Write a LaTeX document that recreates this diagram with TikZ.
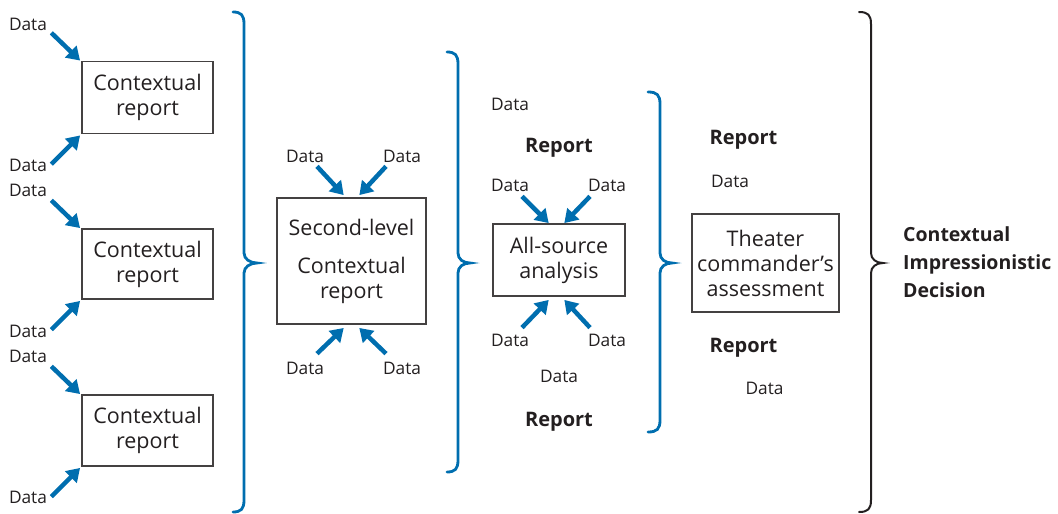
\documentclass[tikz,border=0pt]{standalone}
\usepackage{fontspec}
\setmainfont{Open Sans}
\usetikzlibrary{arrows.meta,calc}
\definecolor{flowblue}{RGB}{0,110,175}
\definecolor{ink}{RGB}{35,31,32}
\begin{document}
\begin{tikzpicture}[x=1pt,y=-1pt,
  box/.style={draw=ink!85,line width=1.3pt,text=ink,align=center,inner sep=0pt,
    font=\fontsize{21.5}{25}\selectfont},
  datalbl/.style={text=ink,inner sep=0pt,font=\fontsize{17.3}{19}\selectfont},
  rep/.style={text=ink,inner sep=0pt,yshift=-3pt,font=\fontsize{20}{28}\selectfont\bfseries},
  feed/.style={draw=flowblue,line width=4.5pt,
    -{Triangle[length=13pt,width=16pt]},shorten >=-1pt},
  bluebrace/.style={draw=flowblue,line width=2.8pt,line cap=round},
  blackbrace/.style={draw=ink,line width=2pt,line cap=round}]
\useasboundingbox (0,0) rectangle (1058,514);

% first-level contextual reports
\node[box,minimum width=131pt,minimum height=72pt] (c1) at (147.5,97.5) {Contextual\\report};
\node[box,minimum width=131pt,minimum height=70pt] (c2) at (147.5,264) {Contextual\\report};
\node[box,minimum width=131pt,minimum height=71pt] (c3) at (147.5,430.5) {Contextual\\report};

\node[datalbl] (d1) at (28,24) {Data};
\node[datalbl] (d2) at (28,165) {Data};
\node[datalbl] (d3) at (28,190) {Data};
\node[datalbl] (d4) at (28,331) {Data};
\node[datalbl] (d5) at (28,356) {Data};
\node[datalbl] (d6) at (28,497) {Data};

\foreach \b in {c1,c2,c3}{
  \draw[feed] ($(\b.north west)+(-30,-28)$) -- ($(\b.north west)+(-2,-1)$);
  \draw[feed] ($(\b.south west)+(-30,30)$) -- ($(\b.south west)+(-2,2)$);
}

% brace gathering the first level
\draw[bluebrace] (233,12) .. controls (241,12) and (244,15) .. (244,24)
  -- (244,253) .. controls (244,259) and (250,263) .. (257,263)
  .. controls (250,263) and (244,267) .. (244,273)
  -- (244,500) .. controls (244,509) and (241,512) .. (233,512);

% second-level report
\node[box,minimum width=149pt,minimum height=126pt] (s) at (351.5,261)
  {Second-level\\[13pt]Contextual\\report};
\node[datalbl] (s1) at (305,156) {Data};
\node[datalbl] (s2) at (402,156) {Data};
\node[datalbl] (s3) at (305,368) {Data};
\node[datalbl] (s4) at (402,368) {Data};
\draw[feed] ($(s.north)+(-34.5,-31)$) -- ($(s.north)+(-8.5,-3)$);
\draw[feed] ($(s.north)+(34.5,-31)$) -- ($(s.north)+(8.5,-3)$);
\draw[feed] ($(s.south)+(-34.5,29)$) -- ($(s.south)+(-8.5,4)$);
\draw[feed] ($(s.south)+(34.5,29)$) -- ($(s.south)+(8.5,4)$);

\draw[bluebrace] (447,52) .. controls (455,52) and (458,55) .. (458,64)
  -- (458,253) .. controls (458,259) and (463,263) .. (470,263)
  .. controls (463,263) and (458,267) .. (458,273)
  -- (458,460) .. controls (458,469) and (455,472) .. (447,472);

% all-source analysis
\node[box,minimum width=132pt,minimum height=72pt] (a) at (559,260) {All-source\\analysis};
\node[datalbl] (a0) at (510,104) {Data};
\node[rep] (r1) at (559,145) {Report};
\node[datalbl] (a1) at (510,185) {Data};
\node[datalbl] (a2) at (607,185) {Data};
\node[datalbl] (a3) at (510,340) {Data};
\node[datalbl] (a4) at (607,340) {Data};
\node[datalbl] (a5) at (559,376) {Data};
\node[rep] (r2) at (559,419) {Report};
\draw[feed] ($(a.north)+(-37,-27)$) -- ($(a.north)+(-11,-1)$);
\draw[feed] ($(a.north)+(31,-27)$) -- ($(a.north)+(6,-1)$);
\draw[feed] ($(a.south)+(-37,31)$) -- ($(a.south)+(-11,4)$);
\draw[feed] ($(a.south)+(31,31)$) -- ($(a.south)+(6,4)$);

\draw[bluebrace] (648,92) .. controls (657,92) and (660,95) .. (660,104)
  -- (660,253) .. controls (660,259) and (665,263) .. (672,263)
  .. controls (665,263) and (660,267) .. (660,273)
  -- (660,420) .. controls (660,429) and (657,432) .. (648,432);

% theater commander's assessment
\node[box,minimum width=147pt,minimum height=98pt] (t) at (765.5,263)
  {Theater\\commander’s\\assessment};
\node[rep] (r3) at (743.5,137) {Report};
\node[datalbl] (t1) at (730,181) {Data};
\node[rep] (r4) at (743.5,345) {Report};
\node[datalbl] (t2) at (764.5,388) {Data};

\draw[blackbrace] (859,12) .. controls (868,12) and (871,15) .. (871,24)
  -- (871,253) .. controls (871,259) and (876,263) .. (883,263)
  .. controls (876,263) and (871,267) .. (871,273)
  -- (871,500) .. controls (871,509) and (868,512) .. (859,512);

% outcome
\node[text=ink,inner sep=0pt,anchor=west,align=left,font=\fontsize{19.5}{28}\selectfont\bfseries] (out) at (903,262)
  {Contextual\\Impressionistic\\Decision};
\end{tikzpicture}
\end{document}
